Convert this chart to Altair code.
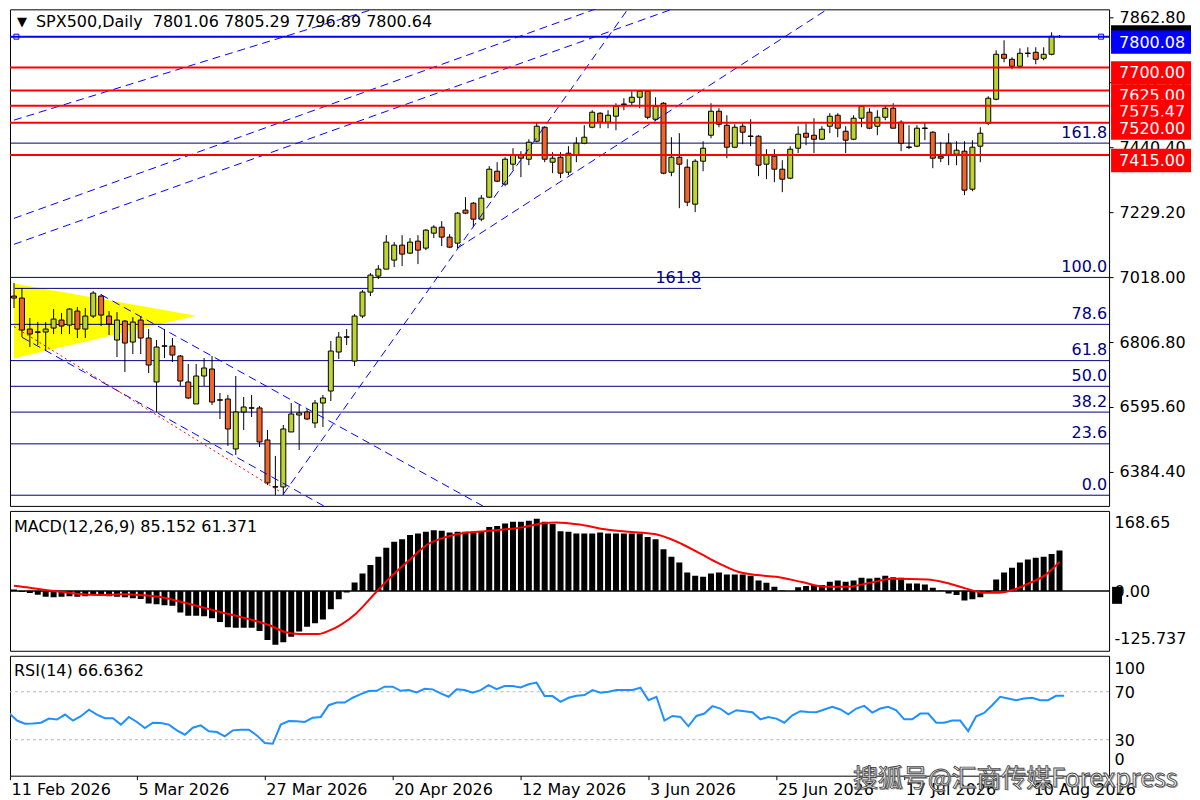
import altair as alt
import pandas as pd

FONT = "DejaVu Sans"
BULL = "#bed431"
BEAR = "#f0652c"

# ---------------- data ----------------
opens = [6956.3, 6949.8, 6849, 6840, 6839.3, 6852.3, 6878.3, 6862, 6907.5, 6849,
         6891.3, 6956.3, 6891.3, 6813.3, 6875, 6806.8, 6878.3, 6819.8, 6676.8, 6794.5,
         6793.8, 6761.3, 6676.8, 6605.3, 6696.3, 6719, 6619, 6621.5, 6459, 6579.3,
         6593, 6592.3, 6488.3, 6336.3, 6335.5, 6514.3, 6569.5, 6579.3, 6543.5, 6608.5,
         6647.5, 6774.3, 6823.8, 6745, 6891.3, 6969.3, 7021.3, 7044, 7073.3, 7122,
         7096, 7135, 7112.3, 7161, 7180.5, 7148, 7128.5, 7235.8, 7258.5, 7206.5,
         7278, 7362.5, 7320.3, 7385.3, 7414.5, 7401.5, 7460, 7505.5, 7391.8, 7408,
         7359.3, 7414.5, 7453.5, 7505.5, 7551, 7521.8, 7541.3, 7581, 7586.8, 7603,
         7622.5, 7531.5, 7583.5, 7359.3, 7408, 7375.5, 7255.3, 7395, 7479.5, 7557.5,
         7512, 7440.5, 7508.8, 7477, 7476.3, 7385.3, 7411.3, 7369, 7339.8, 7437.3,
         7486, 7479.5, 7466.5, 7508.8, 7544.5, 7492.5, 7466.5, 7534.8, 7554.3, 7508.8,
         7538, 7567.3, 7521.8, 7441.3, 7443.8, 7503, 7489.3, 7411.3, 7453.5, 7417.8,
         7427.5, 7304, 7443.8, 7518.5, 7596.5, 7742.8, 7726.5, 7703.8, 7746.8, 7749.3,
         7729.8, 7742.8, 7801.06]
highs = [6998.5, 6982.3, 6884.8, 6871.8, 6871.8, 6914, 6901, 6917.3, 6920.5, 6917.3,
         6972.5, 6962.8, 6907.5, 6904.3, 6878.3, 6888, 6891.3, 6849, 6813.3, 6849,
         6819.8, 6764.5, 6735.3, 6735.3, 6754.8, 6761.3, 6641, 6634.5, 6696.3, 6628,
         6634.5, 6598.8, 6520.8, 6436.3, 6537, 6608.5, 6602, 6589, 6618.3, 6634.5,
         6810, 6839.3, 6849, 6897.8, 6975.8, 7031, 7057, 7154.5, 7131.8, 7154.5,
         7144.8, 7154.5, 7174, 7187, 7200, 7157.8, 7229.3, 7278, 7261.8, 7284.5,
         7378.8, 7391.8, 7408, 7437.3, 7427.5, 7466.5, 7521.8, 7508.8, 7424.3, 7424.3,
         7443.8, 7473, 7512, 7560.8, 7554.3, 7560.8, 7583.5, 7599.8, 7622.5, 7625.8,
         7625.8, 7603, 7586.8, 7473, 7486, 7401.5, 7401.5, 7460, 7583.5, 7567.3,
         7544.5, 7515.3, 7518.5, 7531.5, 7479.5, 7434, 7434, 7398.3, 7443.8, 7508.8,
         7518.5, 7534.8, 7508.8, 7551, 7551, 7508.8, 7544.5, 7577, 7567.3, 7560.8,
         7577, 7583.5, 7528.3, 7512, 7512, 7521.8, 7492.5, 7456.8, 7486, 7460,
         7460, 7463.3, 7505.5, 7606.3, 7755.8, 7788.3, 7733, 7762.3, 7765.5, 7765.5,
         7765.5, 7814.3, 7805.29]
lows = [6917.3, 6823, 6790.5, 6797, 6777.5, 6832.8, 6832.8, 6832.8, 6819.8, 6819.8,
        6884.8, 6858.8, 6829.5, 6758, 6709.3, 6767.8, 6767.8, 6706, 6579.3, 6754.8,
        6741.8, 6663.8, 6621.5, 6605.3, 6663.8, 6602, 6556.5, 6468.8, 6439.5, 6520.8,
        6563, 6465.5, 6342, 6309.5, 6309.5, 6514.3, 6455.8, 6553.3, 6527.3, 6530.5,
        6615, 6751.5, 6797, 6728.8, 6884.8, 6956.3, 7011.5, 7044, 7050.5, 7053.8,
        7092.8, 7060.3, 7105.8, 7144.8, 7118.8, 7112.3, 7112.3, 7222.8, 7180.5, 7200,
        7274.8, 7326.8, 7313.8, 7365.8, 7343, 7382, 7456.8, 7391.8, 7356, 7339.8,
        7349.5, 7391.8, 7450.3, 7502.3, 7502.3, 7502.3, 7495.8, 7560.8, 7573.8, 7567.3,
        7531.5, 7525, 7352.8, 7346.3, 7242.3, 7248.8, 7229.3, 7362.5, 7469.8, 7505.5,
        7404.8, 7437.3, 7450.3, 7443.8, 7346.3, 7336.5, 7326.8, 7294.3, 7336.5, 7421,
        7447, 7421, 7463.3, 7486, 7473, 7421, 7463.3, 7505.5, 7499, 7479.5,
        7528.3, 7502.3, 7427.5, 7434, 7440.5, 7463.3, 7372.3, 7391.8, 7382, 7382,
        7284.5, 7297.5, 7391.8, 7512, 7593.3, 7716.8, 7694, 7697.3, 7733, 7710.3,
        7723.3, 7739.5, 7796.89]
closes = [6949.8, 6845.8, 6832.8, 6838.5, 6849, 6881.5, 6858.8, 6914, 6849, 6891.3,
          6966, 6894.5, 6865.3, 6878.3, 6803.5, 6871.8, 6819.8, 6732, 6790.5, 6793,
          6764.5, 6680, 6624.8, 6696.3, 6722.3, 6611.8, 6617.5, 6524, 6579.3, 6595.5,
          6591.5, 6481.8, 6348.5, 6334.8, 6524, 6572.8, 6576, 6556.5, 6608.5, 6624.8,
          6777.5, 6823, 6822.3, 6891.3, 6969.3, 7024.5, 7044, 7131.8, 7122, 7092.8,
          7131.8, 7105.8, 7170.8, 7180.5, 7148, 7115.5, 7226, 7226, 7206.5, 7274.8,
          7369, 7330, 7401.5, 7414.5, 7404.8, 7456.8, 7508.8, 7401.5, 7404.8, 7356,
          7421, 7453.5, 7473, 7554.3, 7521.8, 7544.5, 7573.8, 7579.5, 7603, 7622.5,
          7538, 7573.8, 7356, 7408, 7385.3, 7261.8, 7395, 7437.3, 7557.5, 7515.3,
          7440.5, 7505.5, 7489.3, 7475.5, 7382, 7414.5, 7369, 7336.5, 7434, 7482.8,
          7473, 7466.5, 7499, 7541.3, 7502.3, 7463.3, 7534.8, 7573.8, 7502.3, 7538,
          7567.3, 7502.3, 7453.5, 7439.8, 7502.3, 7501.5, 7404.8, 7404.8, 7414.5, 7430.8,
          7300.8, 7440.5, 7486, 7599.8, 7742.8, 7729.8, 7703.8, 7746, 7745.3, 7726.5,
          7742.8, 7801.3, 7800.64]

macd_hist = [3, -2, -4, -8, -12, -13, -12, -11, -12, -11,
             -8.5, -8.5, -11, -12, -13, -15, -17, -26, -28, -30,
             -31, -45, -52, -52, -53, -57, -65, -76, -77, -77,
             -77, -84, -103, -113, -108, -96, -85, -75, -68, -60,
             -38.5, -17.5, -3, 18, 37, 55, 72, 91, 104, 109,
             118, 121, 125, 128, 127, 123, 125, 125, 125, 125,
             135, 137, 142, 146, 146, 148, 152, 146, 141, 126,
             125, 121, 121, 121, 123, 121, 121, 121, 121, 121,
             114, 109, 88, 72, 60, 39, 32, 30, 37, 39,
             35, 35, 35, 32, 22, 17.5, 9, 1, 0, 8,
             10.5, 12.6, 12.6, 19.6, 22, 19.6, 22, 28, 26.6, 28,
             32, 29, 28, 16, 16, 14, 7, 1, -5, -8.4,
             -20, -17.5, -13, -2, 24.5, 39, 49, 60, 66.6, 70,
             72, 78, 85.15]

signal_i = [0, 2, 4, 6, 8.2, 10.6, 14, 15.9, 18.3, 20.7, 23.5, 26.4, 29.3, 32.2, 34.1,
            36, 38.4, 39.8, 41.2, 43.2, 45.5, 47.5, 49.9, 52.2, 54.6, 57, 59.4, 61.8,
            64.2, 66.6, 68.5, 71.4, 74.6, 77.5, 80.9, 83.7, 86.6, 89, 91.4, 93.8, 96.2,
            99.5, 102.4, 105.2, 108.1, 111, 115.3, 117.7, 120.1, 122.5, 124.4, 126.3,
            128.3, 130.2, 132]
signal_v = [11.2, 7, 2, -1.4, -6.3, -8.4, -7, -8.4, -12, -21, -33, -45.6, -57.5, -71.5,
            -85.5, -90.4, -90.4, -83.4, -71.5, -47, -6.3, 28.7, 65, 98, 114, 122.7, 126,
            129.7, 134, 142, 144.4, 140, 130, 124.8, 119.9, 103.7, 79.2, 58.2, 40.7, 33.6,
            30.1, 18.9, 9.1, 9.1, 17.5, 25.9, 24.5, 17.5, 5.6, -3.5, -3.5, 3.5, 17.5,
            33.6, 61.37]

rsi = [52.4, 46, 43.4, 43.5, 44.2, 47.6, 46.8, 51, 46, 49.6,
       55, 51, 48, 48, 42.6, 49, 44.8, 39.8, 44.2, 44,
       42.6, 37.8, 34.2, 40, 42, 37, 36.4, 32.8, 37.8, 38.4,
       38.4, 33.6, 27.2, 26.6, 42.6, 45.6, 45.4, 44.8, 48.4, 49,
       58.8, 61, 61, 65, 68, 70.6, 70.8, 74.2, 74.2, 70.8,
       71.4, 69.4, 72.5, 72, 68.6, 65.8, 72, 71.4, 69.2, 71.4,
       75.6, 72.2, 74.8, 74.8, 73.6, 76.2, 77.6, 66.4, 66.4, 61.6,
       65, 66.6, 67.2, 71.4, 69.2, 70, 71.4, 71.4, 71.4, 73.4,
       63, 65.8, 46, 49.8, 49, 41.2, 49.8, 51.8, 58, 56,
       51.2, 54.6, 53.8, 52.9, 47, 49, 47.6, 44.2, 50.4, 53.8,
       53.2, 52.9, 55.2, 57.4, 55.2, 51.2, 56, 58.2, 52.6, 56,
       57.4, 54.6, 47, 47, 51.8, 51.8, 44.2, 44.2, 46, 46,
       37.2, 49.6, 52.4, 58.8, 65.8, 64.4, 63, 64.4, 65, 63,
       63, 66.6, 66.64]

tick_vals = [0.125, 16, 32, 48, 64, 80, 96, 112, 128]
tick_labels = ["11 Feb 2026", "5 Mar 2026", "27 Mar 2026", "20 Apr 2026", "12 May 2026",
               "3 Jun 2026", "25 Jun 2026", "17 Jul 2026", "10 Aug 2026"]
price_ticks = [7862.8, 7651.6, 7440.4, 7229.2, 7018.0, 6806.8, 6595.6, 6384.4]

fib_prices = [6308.5, 6475.6, 6578.9, 6662.8, 6746.3, 6864.3, 7017.0, 7453.8]
fib_labels = ["0.0", "23.6", "38.2", "50.0", "61.8", "78.6", "100.0", "161.8"]
fib2_price = [6981.3]
fib2_start = [0.125]
fib2_end = [86.75]
fib2_label = ["161.8"]

red_levels = [7700, 7625, 7575.47, 7520, 7415]
bid_level = [7800.08]
bid_marks_i = [0.3, 137.25]

box_prices = [7816.5, 7800.08, 7700, 7625, 7575.47, 7520, 7415]
box_texts = ["", "7800.08", "7700.00", "7625.00", "7575.47", "7520.00", "7415.00"]
box_colors = ["#000000", "#0000ff", "#ff0000", "#ff0000", "#ff0000", "#ff0000", "#ff0000"]

trend_names = ["A", "A", "B", "B", "C", "C", "S", "S", "U", "U", "DU", "DU", "DL", "DL"]
trend_i = [0, 50, 0, 80, 0, 90, 34, 79, 56, 105, 11, 60, 1, 40]
trend_p = [7528.6, 7926.4, 7209.1, 7951.1, 7124.6, 7953.0, 6311.8, 7943.9,
           7112.3, 7927.7, 6960.8, 6262.0, 6822.3, 6260.8]
dotted_i = [0, 33.5]
dotted_p = [6857.1, 6321.5]

tri_i = [0, 23]
tri_top = [6997.5, 6892.2]
tri_bot = [6753.8, 6892.2]

title_text = "SPX500,Daily\u00a0\u00a07801.06 7805.29 7796.89 7800.64"
macd_text = "MACD(12,26,9) 85.152 61.371"
rsi_text = "RSI(14) 66.6362"
watermark = "搜狐号@汇商传媒Forexpress"

# ---------------- layout ----------------
W = 1100
H1, H2, H3 = 497, 140, 120
XD = [0.125, 137.625]
PDOM = [6273.75, 7889.0]
MDOM = [-125.737, 168.65]

n = len(opens)
idx = list(range(n))
candles = pd.DataFrame({"i": idx, "o": opens, "h": highs, "l": lows, "c": closes})
candles["dir"] = ["up" if c >= o else "down" for o, c in zip(opens, closes)]

xscale = alt.Scale(domain=XD, nice=False, zero=False)


def px(field, axis=None):
    return alt.X(field, type="quantitative", scale=xscale, axis=axis)


price_axis = alt.Axis(orient="right", values=price_ticks, format=".2f", title=None,
                      labelFont=FONT, labelFontSize=16, labelColor="black",
                      tickColor="black", tickSize=4, labelPadding=6, domain=False, grid=False)


def py(field):
    return alt.Y(field, type="quantitative",
                 scale=alt.Scale(domain=PDOM, nice=False, zero=False), axis=price_axis)


# price panel layers
tri_layer = alt.Chart(pd.DataFrame({"i": tri_i, "top": tri_top, "bot": tri_bot})).mark_area(
    color="#ffff00", opacity=1, clip=True).encode(x=px("i"), y=py("top"), y2="bot")

fib_df = pd.DataFrame({"p": fib_prices, "lab": fib_labels})
fib_rule = alt.Chart(fib_df).mark_rule(color="#000080", strokeWidth=1, clip=True).encode(y=py("p"))
fib_text = alt.Chart(fib_df).mark_text(align="right", baseline="middle", dy=-10.5, font=FONT,
                                        fontSize=16, color="#000080").encode(
    x=alt.value(W - 2), y=py("p"), text="lab:N")

fib2_df = pd.DataFrame({"p": fib2_price, "x0": fib2_start, "x1": fib2_end, "lab": fib2_label})
fib2_rule = alt.Chart(fib2_df).mark_rule(color="#000080", strokeWidth=1, clip=True).encode(
    x=px("x0"), x2="x1", y=py("p"))
fib2_text = alt.Chart(fib2_df).mark_text(align="right", baseline="middle", dy=-10.5, font=FONT,
                                          fontSize=16, color="#000080").encode(
    x=px("x1"), y=py("p"), text="lab:N")

wicks = alt.Chart(candles).mark_rule(color="black", strokeWidth=1, clip=True).encode(
    x=px("i"), y=py("l"), y2="h")
bodies = alt.Chart(candles).mark_bar(width=5, stroke="black", strokeWidth=1, clip=True).encode(
    x=px("i"), y=py("o"), y2="c",
    color=alt.Color("dir:N", scale=alt.Scale(domain=["up", "down"], range=[BULL, BEAR]), legend=None))

trend_df = pd.DataFrame({"line": trend_names, "i": trend_i, "p": trend_p})
trends = alt.Chart(trend_df).mark_line(color="#0000ff", strokeWidth=1, strokeDash=[8, 5],
                                       clip=True).encode(x=px("i"), y=py("p"), detail="line:N")
dotted = alt.Chart(pd.DataFrame({"i": dotted_i, "p": dotted_p})).mark_line(
    color="#ff0000", strokeWidth=1, strokeDash=[2, 3], clip=True).encode(x=px("i"), y=py("p"))

red_rules = alt.Chart(pd.DataFrame({"p": red_levels})).mark_rule(
    color="#ff0000", strokeWidth=2, clip=True).encode(y=py("p"))
bid_rule = alt.Chart(pd.DataFrame({"p": bid_level})).mark_rule(
    color="#0000ff", strokeWidth=2, clip=True).encode(y=py("p"))
bid_marks = alt.Chart(pd.DataFrame({"i": bid_marks_i, "p": bid_level * 2})).mark_point(
    shape="square", filled=False, size=25, color="#0000ff", strokeWidth=1, opacity=1).encode(
    x=px("i"), y=py("p"))

title_layer = alt.Chart(pd.DataFrame({"t": [title_text]})).mark_text(
    align="left", baseline="middle", font=FONT, fontSize=16, color="black").encode(
    x=alt.value(26), y=alt.value(13), text="t:N")
tri_glyph = alt.Chart(pd.DataFrame({"t": ["\u25bc"]})).mark_text(
    align="center", baseline="middle", font=FONT, fontSize=13, color="black").encode(
    x=alt.value(12), y=alt.value(12.5), text="t:N")

box_shape = "M-1,-0.1575L1,-0.1575L1,0.4275L-1,0.4275Z"
box_layers = []
for p, t, col in zip(box_prices, box_texts, box_colors):
    d = pd.DataFrame({"p": [p], "t": [t]})
    box_layers.append(alt.Chart(d).mark_point(shape=box_shape, size=6400, filled=True, opacity=1,
                                              strokeWidth=0, color=col).encode(
        x=alt.value(W + 42), y=py("p")))
    if t:
        box_layers.append(alt.Chart(d).mark_text(align="left", baseline="middle", dy=6, font=FONT,
                                                 fontSize=16, color="white").encode(
            x=alt.value(W + 10), y=py("p"), text="t:N"))

price = alt.layer(tri_layer, fib_rule, fib2_rule, fib_text, fib2_text, wicks, bodies,
                  trends, dotted, red_rules, bid_rule, bid_marks, title_layer, tri_glyph,
                  *box_layers).properties(width=W, height=H1)

# MACD panel
macd_axis = alt.Axis(orient="right", values=[168.65, 0, -125.737],
                     labelExpr="datum.value == 0 ? '0.00' : toString(datum.value)",
                     ticks=False, tickSize=0, labelPadding=5, labelFlush=True, labelFlushOffset=-4,
                     domain=False, grid=False, title=None, labelFont=FONT, labelFontSize=16,
                     labelColor="black", zindex=1)


def my(field):
    return alt.Y(field, type="quantitative",
                 scale=alt.Scale(domain=MDOM, nice=False, zero=False), axis=macd_axis)


macd_df = pd.DataFrame({"i": idx, "h": macd_hist, "z": [0] * n})
hist = alt.Chart(macd_df).mark_bar(width=6, color="black", clip=True).encode(
    x=px("i"), y=my("h"), y2="z")
zero_rule = alt.Chart(pd.DataFrame({"z": [0]})).mark_rule(color="black", strokeWidth=1.5).encode(
    y=my("z"))
sig = alt.Chart(pd.DataFrame({"i": signal_i, "s": signal_v})).mark_line(
    color="#ff0000", strokeWidth=2, interpolate="monotone", clip=True).encode(x=px("i"), y=my("s"))
macd_label = alt.Chart(pd.DataFrame({"t": [macd_text]})).mark_text(
    align="left", baseline="middle", font=FONT, fontSize=16, color="black").encode(
    x=alt.value(4), y=alt.value(16), text="t:N")
zero_box = alt.Chart(pd.DataFrame({"z": [0]})).mark_point(
    shape="M-1,-0.84L1,-0.84L1,2.56L-1,2.56Z", size=100, filled=True, opacity=1, strokeWidth=0,
    color="black").encode(x=alt.value(W + 8), y=my("z"))

macd = alt.layer(hist, zero_rule, sig, macd_label, zero_box).properties(width=W, height=H2)

# RSI panel
date_axis = alt.Axis(orient="bottom", values=tick_vals,
                     labelExpr="[" + ",".join("'%s'" % s for s in tick_labels) + "][round(datum.value / 16)]",
                     labelAlign="left", labelBaseline="top", labelPadding=2, labelOffset=1,
                     labelFlush=False, tickSize=4, tickColor="black", domain=False, grid=False,
                     title=None, labelFont=FONT, labelFontSize=16, labelColor="black")
rsi_axis = alt.Axis(orient="right", values=[100, 70, 30, 0], ticks=False, tickSize=0,
                    labelPadding=5, labelFlush=False,
                    labelOffset={"condition": [{"test": "datum.value == 100", "value": 13},
                                               {"test": "datum.value == 0", "value": -16}],
                                 "value": 1},
                    domain=False, grid=False,
                    title=None, labelFont=FONT, labelFontSize=16, labelColor="black")


def ry(field):
    return alt.Y(field, type="quantitative",
                 scale=alt.Scale(domain=[0, 100], nice=False, zero=False), axis=rsi_axis)


rsi_df = pd.DataFrame({"i": idx, "r": rsi})
rsi_levels = alt.Chart(pd.DataFrame({"v": [70, 30]})).mark_rule(
    color="#b8b8b8", strokeWidth=1, strokeDash=[3, 3]).encode(y=ry("v"))
rsi_line = alt.Chart(rsi_df).mark_line(color="#1e90ff", strokeWidth=2, clip=True).encode(
    x=px("i", date_axis), y=ry("r"))
rsi_label = alt.Chart(pd.DataFrame({"t": [rsi_text]})).mark_text(
    align="left", baseline="middle", font=FONT, fontSize=16, color="black").encode(
    x=alt.value(4), y=alt.value(15), text="t:N")
wm_shadow = alt.Chart(pd.DataFrame({"t": [watermark]})).mark_text(
    align="center", baseline="middle", font="Noto Sans CJK SC", fontSize=25, color="#6e6e6e",
    opacity=0.6, dx=1.5, dy=1.5).encode(x=alt.value(1006), y=alt.value(123), text="t:N")
wm_text = alt.Chart(pd.DataFrame({"t": [watermark]})).mark_text(
    align="center", baseline="middle", font="Noto Sans CJK SC", fontSize=25, color="#ffffff",
    stroke="#4a4a4a", strokeWidth=0.9).encode(x=alt.value(1006), y=alt.value(123), text="t:N")

rsi_chart = alt.layer(rsi_levels, rsi_line, rsi_label, wm_shadow, wm_text).properties(
    width=W, height=H3)

chart = alt.vconcat(price, macd, rsi_chart, spacing=3).properties(
    padding=0, background="white").configure_view(stroke="black", strokeWidth=1)

chart.save("out.html", embed_options={"renderer": "svg", "actions": False})
